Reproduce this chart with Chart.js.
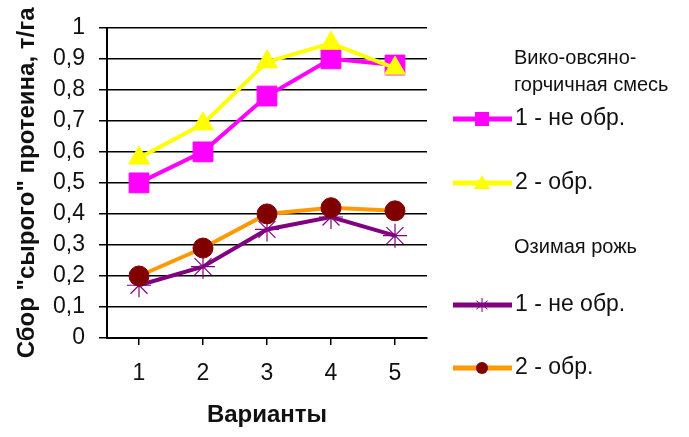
<!DOCTYPE html>
<html>
<head>
<meta charset="utf-8">
<script src="https://cdn.jsdelivr.net/npm/chart.js@4.4.0/dist/chart.umd.min.js"></script>
<style>
  html, body { margin: 0; padding: 0; background: #fff; }
</style>
</head>
<body>
<canvas id="chart" width="689" height="437"></canvas>
<script>
// Данные
const variants = ['1', '2', '3', '4', '5'];
const vikoNotTreated = [0.50, 0.60, 0.78, 0.90, 0.88];
const vikoTreated = [0.58, 0.69, 0.89, 0.95, 0.87];
const ryeNotTreated = [0.17, 0.23, 0.35, 0.39, 0.33];
const ryeTreated = [0.20, 0.29, 0.40, 0.42, 0.41];
const yTickLabels = ['0', '0,1', '0,2', '0,3', '0,4', '0,5', '0,6', '0,7', '0,8', '0,9', '1'];
const groupTitles = [['Вико-овсяно-', 'горчичная смесь'], ['Озимая рожь']];
const seriesLabels = ['1 - не обр.', '2 - обр.', '1 - не обр.', '2 - обр.'];

const FONT = '"Liberation Sans", Arial, sans-serif';

// маркеры легенды
function legendMarker(ctx, style, x, y, fill, stroke) {
    ctx.fillStyle = fill;
    ctx.strokeStyle = stroke;
    ctx.lineWidth = 1;
    ctx.beginPath();
    if (style === 'rect') {
        ctx.rect(x - 7, y - 7, 14, 14);
        ctx.fill();
    } else if (style === 'triangle') {
        ctx.moveTo(x, y - 8);
        ctx.lineTo(x + 8, y + 6);
        ctx.lineTo(x - 8, y + 6);
        ctx.closePath();
        ctx.fill();
    } else if (style === 'star') {
        const r = 7;
        ctx.moveTo(x, y - r); ctx.lineTo(x, y + r);
        ctx.moveTo(x - r * 0.8, y - r * 0.6); ctx.lineTo(x + r * 0.8, y + r * 0.6);
        ctx.moveTo(x - r * 0.8, y + r * 0.6); ctx.lineTo(x + r * 0.8, y - r * 0.6);
        ctx.stroke();
    } else {
        ctx.arc(x, y, 6, 0, Math.PI * 2);
        ctx.fill();
    }
}

// Легенда рисуется вручную (заголовки групп без маркеров)
const sideLegend = {
    id: 'sideLegend',
    afterDraw(chart) {
        const ctx = chart.ctx;
        const ds = chart.data.datasets;
        const rows = [
            { title: groupTitles[0], y: [58, 85] },
            { item: 0, y: 119 },
            { item: 1, y: 183 },
            { title: groupTitles[1], y: [247] },
            { item: 2, y: 305 },
            { item: 3, y: 368 }
        ];
        ctx.save();
        ctx.textBaseline = 'middle';
        ctx.textAlign = 'left';
        rows.forEach(r => {
            if (r.title) {
                ctx.fillStyle = '#111';
                ctx.font = '20px ' + FONT;
                r.title.forEach((t, i) => ctx.fillText(t, 514, r.y[i]));
                return;
            }
            const d = ds[r.item];
            ctx.strokeStyle = d.borderColor;
            ctx.lineWidth = 5;
            ctx.beginPath();
            ctx.moveTo(453, r.y);
            ctx.lineTo(512, r.y);
            ctx.stroke();
            legendMarker(ctx, d.pointStyle, 482, r.y, d.pointBackgroundColor, d.pointBorderColor);
            ctx.fillStyle = '#111';
            ctx.font = '23px ' + FONT;
            ctx.fillText(d.label, 515, r.y);
        });
        ctx.restore();
    }
};

new Chart(document.getElementById('chart'), {
    type: 'line',
    data: {
        labels: variants,
        datasets: [{
            label: seriesLabels[0],
            data: vikoNotTreated,
            borderColor: '#FF00FF',
            borderWidth: 4,
            pointStyle: 'rect',
            pointRadius: 14,
            pointBackgroundColor: '#FF00FF',
            pointBorderColor: '#FF00FF',
            pointBorderWidth: 1,
            order: 4
        }, {
            label: seriesLabels[1],
            data: vikoTreated,
            borderColor: '#FFFF00',
            borderWidth: 4,
            pointStyle: 'triangle',
            pointRadius: 12,
            pointBackgroundColor: '#FFFF00',
            pointBorderColor: '#FFFF00',
            pointBorderWidth: 1,
            order: 3
        }, {
            label: seriesLabels[2],
            data: ryeNotTreated,
            borderColor: '#800080',
            borderWidth: 4,
            pointStyle: 'star',
            pointRadius: 12,
            pointBackgroundColor: '#800080',
            pointBorderColor: '#800080',
            pointBorderWidth: 1.2,
            order: 2
        }, {
            label: seriesLabels[3],
            data: ryeTreated,
            borderColor: '#FF9900',
            borderWidth: 4,
            pointStyle: 'circle',
            pointRadius: 10,
            pointBackgroundColor: '#800000',
            pointBorderColor: '#800000',
            pointBorderWidth: 1,
            order: 1
        }]
    },
    options: {
        responsive: false,
        animation: false,
        devicePixelRatio: 1,
        layout: { padding: { left: 0, right: 262, top: 25, bottom: 0 } },
        plugins: {
            legend: { display: false },
            tooltip: { enabled: false }
        },
        elements: { line: { tension: 0 } },
        scales: {
            x: {
                offset: true,
                grid: { drawOnChartArea: false, drawTicks: true, tickLength: 7, color: '#000', lineWidth: 1.5 },
                border: { color: '#000', width: 2 },
                ticks: { color: '#111', padding: 15, font: { family: FONT, size: 23 } },
                title: {
                    display: true,
                    text: 'Варианты',
                    color: '#111',
                    font: { family: FONT, size: 24, weight: 'bold' },
                    padding: { top: 0, bottom: 7 }
                },
                afterFit(scale) { scale.height = 99; }
            },
            y: {
                min: 0,
                max: 1,
                grid: { color: '#000', lineWidth: 1.5, tickLength: 8 },
                border: { color: '#000', width: 2 },
                ticks: {
                    stepSize: 0.1,
                    color: '#111',
                    padding: 14,
                    font: { family: FONT, size: 23 },
                    callback: (v, i) => yTickLabels[i]
                },
                title: {
                    display: true,
                    text: 'Сбор "сырого" протеина, т/га',
                    color: '#111',
                    font: { family: FONT, size: 24, weight: 'bold' },
                    padding: { top: 13, bottom: 0 }
                },
                afterFit(scale) { scale.width = 107; }
            }
        }
    },
    plugins: [sideLegend]
});
</script>
</body>
</html>
